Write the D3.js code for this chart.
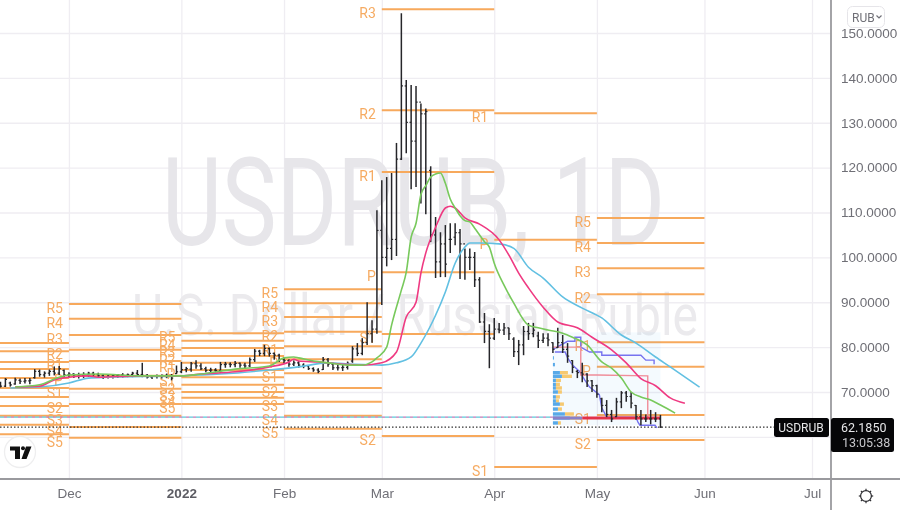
<!DOCTYPE html>
<html>
<head>
<meta charset="utf-8">
<script src="https://cdn.jsdelivr.net/npm/d3@7"></script>
<style>
  html, body { margin: 0; padding: 0; background: #fff; }
  svg { display: block; font-family: Roboto, "Open Sans", sans-serif; filter: blur(0.3px); }
  .axis text { fill: #6f6f76; font-size: 13.5px; }
  .axis .domain { display: none; }
  .grid line { stroke: #efedf2; stroke-width: 1.3; }
  .grid .domain { display: none; }
  .grid text { display: none; }
</style>
</head>
<body>
<svg id="chart" width="900" height="510"></svg>
<script>
// daily USDRUB bars, one value per trading day
const highs = [
  72.3,73.1,72.3,73.2,73.0,73.1,73.1,75.1,75.0,74.6,
  75.0,75.7,75.8,75.0,74.4,74.2,74.3,74.4,74.5,74.5,
  74.3,74.0,74.0,74.0,74.0,74.2,74.1,74.5,74.9,76.5,
  74.0,73.8,73.9,73.9,74.1,74.0,75.9,76.7,75.6,76.7,
  77.1,76.4,75.6,75.4,75.3,76.7,76.7,76.6,76.9,76.6,
  76.5,77.7,79.6,79.4,80.5,79.9,78.8,78.5,77.8,77.3,
  77.0,76.9,76.4,75.9,75.5,75.3,77.8,77.6,76.5,76.2,
  76.0,76.8,80.2,80.9,82.0,90.0,86.0,110.5,117.2,117.9,
  118.8,125.5,154.4,139.5,138.4,138.2,134.3,133.2,120.3,109.0,
  105.6,107.2,107.6,107.6,106.3,102.0,102.0,101.2,95.6,87.6,
  85.1,86.5,85.4,85.4,84.3,82.2,81.6,84.7,85.4,85.4,
  83.4,83.1,83.1,81.1,84.3,82.7,80.9,77.1,74.9,76.5,
  74.2,72.7,71.6,68.7,68.2,66.0,68.7,70.2,70.2,70.0,
  67.1,66.0,65.0,66.0,65.5,64.9
];
const lows = [
  71.0,71.1,71.2,71.6,71.8,71.9,71.7,73.0,73.4,73.2,
  73.6,73.7,73.8,73.3,73.2,73.1,73.0,73.1,73.4,73.6,
  73.3,72.9,73.0,73.0,73.1,73.2,73.3,73.3,73.5,73.3,
  73.0,72.9,73.0,73.0,73.1,72.6,74.0,74.2,74.4,74.5,
  75.2,74.9,74.4,74.3,74.4,74.2,75.4,75.5,75.5,75.4,
  75.2,75.5,76.7,78.0,78.0,77.9,77.2,76.7,76.4,75.6,
  75.8,75.4,75.3,74.9,74.5,74.2,74.9,75.6,74.9,74.8,
  74.7,75.0,76.5,78.0,78.2,80.5,81.0,83.0,89.4,98.0,
  99.4,100.3,121.7,123.2,115.2,115.7,112.0,109.6,103.4,95.4,
  95.6,95.6,101.0,102.7,95.2,95.0,97.2,93.4,85.4,80.9,
  75.3,81.6,83.1,82.7,81.6,77.8,76.0,78.2,81.6,82.2,
  79.8,80.9,80.2,78.7,79.8,78.7,76.5,74.2,73.1,72.2,
  71.1,70.0,68.7,65.5,64.4,63.3,64.4,66.4,67.8,66.4,
  63.8,62.6,63.3,62.8,63.3,62.0
];
const opens = [
  72.0,71.3,72.0,71.8,72.6,72.4,72.5,73.2,74.6,73.8,
  74.2,74.6,74.2,74.8,73.8,74.0,73.5,73.7,73.9,74.2,
  73.9,73.6,73.4,73.5,73.6,73.8,73.7,73.9,74.2,73.9,
  73.7,73.3,73.5,73.6,73.7,73.5,74.1,74.5,75.0,75.1,
  76.3,75.8,75.2,74.8,74.9,74.8,76.1,76.2,76.1,76.4,
  76.0,75.8,77.2,79.1,78.6,79.7,78.6,78.2,77.2,77.0,
  76.2,76.5,76.0,75.8,75.2,74.9,75.0,77.2,76.2,75.4,
  75.4,75.5,76.9,79.6,78.6,81.0,83.0,84.0,106.0,100.0,
  102.0,104.0,121.9,138.2,130.1,125.9,134.6,132.0,119.4,105.0,
  99.0,103.0,104.0,104.5,105.5,103.0,100.0,100.0,95.0,85.6,
  83.5,82.0,84.0,83.8,84.3,81.8,79.0,80.5,83.5,83.0,
  82.5,81.5,82.0,81.0,79.9,81.0,79.5,77.0,74.6,74.3,
  74.0,72.5,71.4,68.5,67.0,65.0,64.5,67.8,69.8,69.0,
  67.0,64.5,64.0,64.0,64.0,64.0
];
const closes = [
  71.3,72.8,71.6,72.7,72.4,72.5,72.6,74.6,73.9,74.2,
  74.6,74.2,75.2,73.8,74.0,73.5,73.8,73.9,74.2,73.9,
  73.6,73.4,73.5,73.6,73.8,73.7,73.9,74.2,73.9,73.7,
  73.3,73.5,73.6,73.7,73.5,73.1,74.5,75.0,75.2,76.3,
  75.8,75.2,74.8,74.9,74.8,76.1,76.2,76.1,76.4,76.0,
  75.8,77.2,79.1,78.6,79.7,78.6,78.2,77.2,77.0,76.2,
  76.5,76.0,75.8,75.2,74.9,74.6,77.2,76.2,75.4,75.4,
  75.5,76.4,79.6,78.6,81.0,83.0,84.0,106.0,100.0,102.0,
  104.0,121.9,138.2,130.1,125.9,134.6,132.0,132.5,105.0,99.0,
  103.0,98.5,104.0,105.5,103.0,100.0,100.0,95.0,85.6,83.5,
  82.0,84.0,83.8,84.3,83.0,79.0,80.5,83.5,83.0,83.8,
  81.5,82.0,81.6,79.5,81.0,79.5,78.0,75.5,74.3,74.0,
  72.5,71.4,69.5,67.0,65.0,64.0,67.8,69.8,69.0,67.5,
  64.5,64.0,64.0,64.0,64.0,62.185
];

// moving averages: [bar index, price]
const maGreen = [[3,71.1],[8,71.6],[12,73.3],[14,73.8],[20,74],[29,73.6],[37,73.6],[41,74],[48,75.1],[55,75.8],[58,77.6],[60,77.8],[61,77.6],[64,76.9],[67,76.5],[71,76],[74,76],[76,76.7],[77,77.6],[79,80],[80,84.9],[82,92.7],[83,96.7],[84,104.5],[85,107.6],[86,114],[87,116],[88,117.9],[89,118.6],[90,118.8],[91,116.5],[92,113],[93,111],[94,109.3],[95,108.2],[96,107.9],[97,106.5],[98,105],[99,103.5],[100,102.3],[101,98.7],[103,93.8],[105,89.8],[108,84.9],[110,84.3],[112,83.8],[115,83.1],[117,82.2],[120,80.5],[123,76.7],[125,75.3],[127,73.1],[129,70],[131,68.9],[133,68.2],[135,67.1],[138,65.3]];
const maPink = [[3,71.1],[8,71.3],[11,72.7],[14,73.3],[18,73.6],[20,73.3],[28,73.6],[37,73.6],[41,74],[48,74.5],[55,75.6],[59,76.7],[60,77.3],[61,76.9],[65,76.7],[70,76.2],[74,76],[78,76.5],[81,78.9],[83,86.7],[85,90],[86,96.5],[87,101],[89,106.7],[91,111],[92,111.4],[93,111],[95,108.8],[98,107.4],[102,103.9],[104,100.5],[106,96.5],[108,93.2],[111,88.9],[114,85.6],[118,84.3],[121,82.2],[125,79.4],[128,76.5],[131,73],[134,71.4],[137,68.7],[140,67.5]];
const maBlue = [[2,70.9],[8,71.1],[14,72],[18,73.1],[22,73.3],[37,73.6],[45,74],[55,74.9],[61,75.6],[67,76.5],[72,76.2],[78,76],[81,76.5],[84,77.8],[86,80.9],[89,87.1],[91,92.3],[93,98.7],[95,102.3],[96,103.2],[98,103.2],[102,103],[105,102],[108,97.8],[111,95.4],[115,91.2],[119,88.7],[123,86.5],[127,82.7],[130,80.9],[134,77.8],[137,75.6],[143,71.1]];

// monthly pivot points, the November labels sit off the left edge
const pivotStarts = [-12, 14, 37, 58, 78, 101, 122];
const pivotEnds = [14, 37, 58, 78, 101, 122, 144];
const pivotNames = [
  [],
  ["R5","R4","R3","R2","R1","P","S1","S2","S3","S4","S5"],
  ["R5","R4","R3","R2","R1","P","S1","S2","S3","S4","S5"],
  ["R5","R4","R3","R2","R1","P","S1","S2","S3","S4","S5"],
  ["R3","R2","R1","P","S1","S2"],
  ["R1","P","S1"],
  ["R5","R4","R3","R2","R1","P","S1","S2"]
];
const pivotLevels = [
  [80.9,79.1,76.7,75.1,73.1,70.9,68.9,66.9,64.7,62.7,60.6],
  [89.6,86.3,82.7,79.4,76.9,73.6,70.7,67.3,64.7,62.2,59.8],
  [83.1,81.4,79.8,78,76.5,74.9,73.3,71.6,70,68.7,67.3],
  [92.9,89.8,86.7,83.4,80.2,77.3,74.2,70.9,67.8,64.7,61.8],
  [155.3,132.8,119,96.7,82.9,60.2],
  [132.1,103.9,53.3],
  [108.8,103.2,97.6,91.8,81.1,75.6,64.9,59.3]
];

// volume profile rows: price, buy, sell
const profilePrices = [77.6,76.1,74.3,73.5,72.6,71.7,70.9,70,68.9,68,67.3,66.2,65.1,64.2,63.1];
const profileBuy = [1,2,7,9,3,3,3,5,3,3,7,5,12,17,5];
const profileSell = [0,0,8,10,5,4,6,4,4,3,4,4,9,10,3];

// step lines of the fixed range profile: [bar index, price]
const stepUpper = [[113,79.5],[116,81.3],[117.5,81.3],[117.5,82.2],[118.7,82.2],[118.7,80],[120.5,78.9],[123,78.9],[123,78.2],[131,78.2],[132,77.1],[133.7,77.1],[133.7,76.2]];
const stepLower = [[113.4,78.9],[115.5,78.9],[116,77.6],[117,76],[118.5,74.5],[119.5,72.7],[120.5,71.1],[122.5,69.4],[123,66.5],[124,64.4],[130,64.4],[130.4,63.3],[130.8,62.6],[133.9,62.6],[134.3,62]];
const stepRed = [[113,80],[118.7,80],[118.7,73.8],[122,73.8],[132.4,73.6],[132.4,64.2]];
const pocPrice = 64.2;
const linePrice = 64.4;

const lastPrice = 62.185;
const priceTicks = [150,140,130,120,110,100,90,80,70];
const gridTicks = [150,140,130,120,110,100,90,80,70,60];
const monthBars = [14, 37, 58, 78, 101, 122, 144, 166];
const monthLabels = ["Dec","2022","Feb","Mar","Apr","May","Jun","Jul"];

const svg = d3.select("#chart");
const plotW = 831, plotH = 479;

const x = d3.scaleLinear().domain([0, 166]).range([0.5, 812]);
const y = d3.scaleLinear().domain([150, 70]).range([33, 392]);
const vol = d3.scaleLinear().domain([0, 10]).range([0, 10]);

svg.append("defs").append("clipPath").attr("id", "plot")
  .append("rect").attr("width", plotW).attr("height", plotH);

const plot = svg.append("g").attr("clip-path", "url(#plot)");

// grid
plot.append("g").attr("class", "grid")
  .call(d3.axisRight(y).tickValues(gridTicks).tickSize(plotW));
plot.append("g").attr("class", "grid")
  .call(d3.axisBottom(x).tickValues(monthBars).tickSize(plotH));

// watermark
plot.append("text").attr("x", 162).attr("y", 245)
  .attr("textLength", 503).attr("lengthAdjust", "spacingAndGlyphs")
  .attr("fill", "#e7e6ea")
  .style("font-size", "122px")
  .text("USDRUB, 1D");
plot.append("text").attr("x", 132).attr("y", 335)
  .attr("textLength", 566).attr("lengthAdjust", "spacingAndGlyphs")
  .attr("fill", "#ebeaed")
  .style("font-size", "58px")
  .text("U.S. Dollar / Russian Ruble");

// pivots
pivotLevels.forEach((levels, p) => {
  const g = plot.append("g");
  g.selectAll("line").data(levels).enter().append("line")
    .attr("x1", x(pivotStarts[p]))
    .attr("x2", x(pivotEnds[p]))
    .attr("y1", d => y(d))
    .attr("y2", d => y(d))
    .attr("stroke", "#f7a95c")
    .attr("stroke-width", 2);
  g.selectAll("text").data(pivotNames[p]).enter().append("text")
    .attr("x", x(pivotStarts[p]) - 6)
    .attr("y", (d, i) => y(levels[i]) + 9)
    .attr("text-anchor", "end")
    .attr("fill", "#f6ab62")
    .style("font-size", "14px")
    .text(d => d);
});

// fixed range profile
const profileLeft = x(113);
plot.append("rect")
  .attr("x", profileLeft)
  .attr("y", y(83.3))
  .attr("width", x(135) - profileLeft)
  .attr("height", y(62.6) - y(83.3))
  .attr("fill", "#2196f3")
  .attr("fill-opacity", 0.05);

plot.selectAll(".sell").data(profilePrices).enter().append("rect")
  .attr("x", (d, i) => profileLeft + vol(profileBuy[i]))
  .attr("y", d => y(d) - 1.7)
  .attr("width", (d, i) => vol(profileSell[i]))
  .attr("height", 3.4)
  .attr("fill", "#f6c970");
plot.selectAll(".buy").data(profilePrices).enter().append("rect")
  .attr("x", profileLeft)
  .attr("y", d => y(d) - 1.7)
  .attr("width", (d, i) => vol(profileBuy[i]))
  .attr("height", 3.4)
  .attr("fill", "#58a9e8");

// last price and dashed lines
plot.append("line")
  .attr("x1", 0).attr("x2", profileLeft)
  .attr("y1", y(linePrice)).attr("y2", y(linePrice))
  .attr("stroke", "#5fc6d8").attr("stroke-width", 1.2).attr("stroke-dasharray", "4 3");
plot.append("line")
  .attr("x1", 4).attr("x2", profileLeft)
  .attr("y1", y(linePrice)).attr("y2", y(linePrice))
  .attr("stroke", "#c07ab8").attr("stroke-width", 1.2).attr("stroke-dasharray", "3 4");
plot.append("line")
  .attr("x1", 0).attr("x2", 775)
  .attr("y1", y(lastPrice)).attr("y2", y(lastPrice))
  .attr("stroke", "#333").attr("stroke-width", 1.2).attr("stroke-dasharray", "1.5 2");

const stepLine = d3.line().x(d => x(d[0])).y(d => y(d[1]));
[[stepUpper, "#7673ef"], [stepLower, "#7673ef"], [stepRed, "#f08d99"]].forEach(s => {
  plot.append("path").attr("d", stepLine(s[0]))
    .attr("fill", "none").attr("stroke", s[1]).attr("stroke-width", 1.4);
});

plot.append("line")
  .attr("x1", profileLeft).attr("x2", x(119))
  .attr("y1", y(pocPrice)).attr("y2", y(pocPrice))
  .attr("stroke", "#8a80c8").attr("stroke-width", 3);
plot.append("line")
  .attr("x1", x(119)).attr("x2", x(135))
  .attr("y1", y(pocPrice)).attr("y2", y(pocPrice))
  .attr("stroke", "#e3324a").attr("stroke-width", 3);

// bars
const bar = plot.append("g").attr("stroke", "#26262a").attr("stroke-width", 1.5)
  .selectAll("g").data(highs).enter().append("g");
bar.append("line")
  .attr("x1", (d, i) => x(i)).attr("x2", (d, i) => x(i))
  .attr("y1", d => y(d)).attr("y2", (d, i) => y(lows[i]));
bar.append("line")
  .attr("x1", (d, i) => x(i) - 1.6).attr("x2", (d, i) => x(i))
  .attr("y1", (d, i) => y(opens[i])).attr("y2", (d, i) => y(opens[i]))
  .attr("stroke-width", 1.2);
bar.append("line")
  .attr("x1", (d, i) => x(i)).attr("x2", (d, i) => x(i) + 1.6)
  .attr("y1", (d, i) => y(closes[i])).attr("y2", (d, i) => y(closes[i]))
  .attr("stroke-width", 1.2);

// moving averages
const maLine = d3.line().x(d => x(d[0])).y(d => y(d[1])).curve(d3.curveMonotoneX);
[[maBlue, "#62c0e2"], [maPink, "#ef3a82"], [maGreen, "#78c95c"]].forEach(m => {
  plot.append("path").attr("d", maLine(m[0]))
    .attr("fill", "none").attr("stroke", m[1])
    .attr("stroke-width", 1.6).attr("stroke-linejoin", "round");
});

// axes
svg.append("g").attr("class", "axis")
  .attr("transform", "translate(832,0)")
  .call(d3.axisRight(y).tickValues(priceTicks).tickSize(0).tickPadding(9).tickFormat(d3.format(".4f")));

const xAxis = svg.append("g").attr("class", "axis")
  .attr("transform", `translate(0,${plotH})`)
  .call(d3.axisBottom(x).tickValues(monthBars).tickSize(0).tickPadding(9)
    .tickFormat((d, i) => monthLabels[i]));
xAxis.selectAll("text")
  .style("font-weight", (d, i) => monthLabels[i] === "2022" ? "700" : "400")
  .style("fill", (d, i) => monthLabels[i] === "2022" ? "#5c5c63" : "#6f6f76");

svg.append("line").attr("x1", 0).attr("x2", 900).attr("y1", plotH).attr("y2", plotH)
  .attr("stroke", "#9a9a9e").attr("stroke-width", 1.8);
svg.append("line").attr("x1", plotW).attr("x2", plotW).attr("y1", 0).attr("y2", 510)
  .attr("stroke", "#9a9a9e").attr("stroke-width", 1.8);

// currency button
svg.append("rect").attr("x", 847.5).attr("y", 6.5).attr("width", 37).attr("height", 21).attr("rx", 5)
  .attr("fill", "#fff").attr("stroke", "#e6e5e9");
svg.append("text").attr("x", 852).attr("y", 22).attr("fill", "#6f6f76")
  .style("font-size", "12px").text("RUB");
svg.append("path").attr("d", "M876.5 15.5l2.5 2.5 2.5-2.5")
  .attr("fill", "none").attr("stroke", "#6f6f76").attr("stroke-width", 1.2);

// price tags
const tagY = y(lastPrice);
svg.append("rect").attr("x", 774).attr("y", tagY - 9).attr("width", 55).attr("height", 19).attr("rx", 2.5).attr("fill", "#060608");
svg.append("text").attr("x", 801).attr("y", tagY + 5).attr("text-anchor", "middle")
  .attr("fill", "#e6e6e8").style("font-size", "12px").text("USDRUB");
svg.append("rect").attr("x", 831).attr("y", tagY - 9).attr("width", 63).attr("height", 34).attr("rx", 2.5).attr("fill", "#060608");
svg.append("text").attr("x", 841).attr("y", tagY + 5).attr("fill", "#e6e6e8")
  .style("font-size", "12.5px").text(d3.format(".4f")(lastPrice));
svg.append("text").attr("x", 842).attr("y", tagY + 20).attr("fill", "#c8c8cc")
  .style("font-size", "12.5px").text("13:05:38");

// settings icon
const gear = svg.append("g").attr("transform", "translate(866,496)")
  .attr("fill", "none").attr("stroke", "#2a2a2e").attr("stroke-width", 1.2);
gear.append("circle").attr("r", 5.4);
gear.selectAll("line").data(d3.range(8)).enter().append("line")
  .attr("y1", -5.4).attr("y2", -7.2)
  .attr("transform", d => `rotate(${d * 45})`);

// logo
const logo = svg.append("g").attr("transform", "translate(20,452)");
logo.append("circle").attr("r", 15.5).attr("fill", "#fff").attr("stroke", "#eeeeef").attr("stroke-width", 1.3);
logo.append("path").attr("d", "M-10-5.5H0V7H-5V-1.5H-10Z M1.5 7 6-5.5H11.5L6.5 7Z").attr("fill", "#111");
logo.append("circle").attr("cx", 3).attr("cy", -3.7).attr("r", 2).attr("fill", "#111");
</script>
</body>
</html>
